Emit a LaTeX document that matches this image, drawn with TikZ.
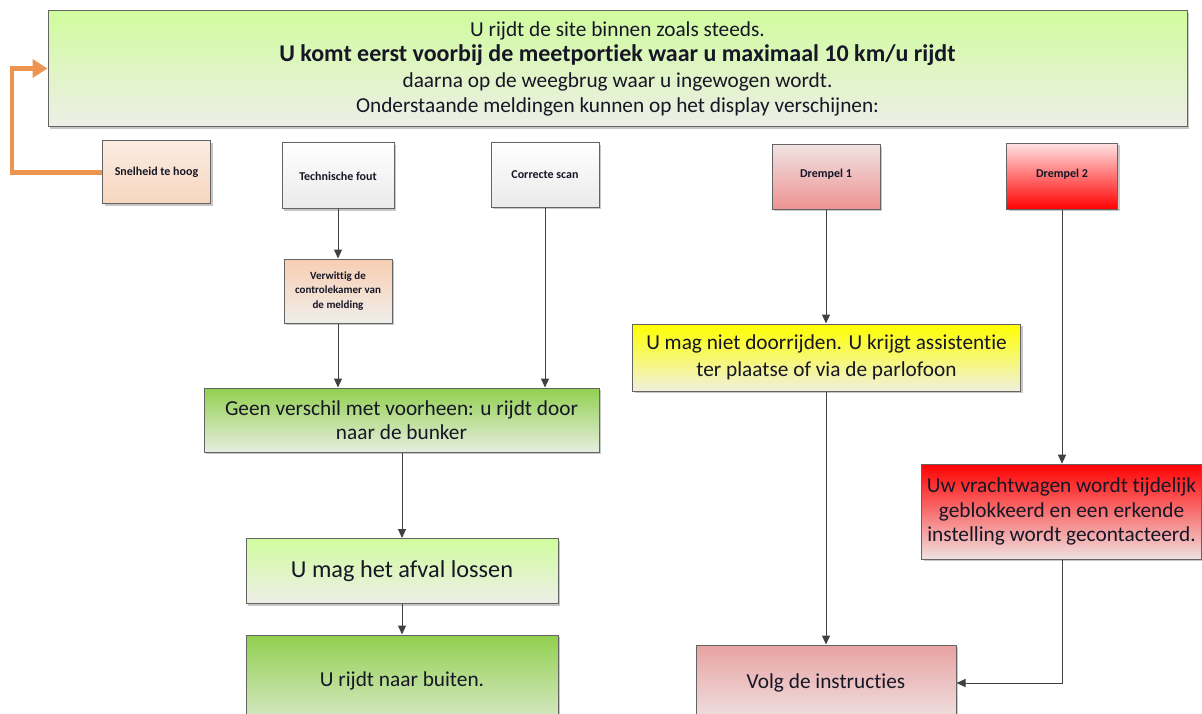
\documentclass[tikz,border=0pt]{standalone}
\usepackage{fontspec}
\setmainfont{Carlito}[Ligatures={NoCommon}]
\usetikzlibrary{arrows.meta,shadows}
\definecolor{lgA}{RGB}{208,252,158}
\definecolor{lgB}{RGB}{238,238,232}
\definecolor{dgA}{RGB}{146,208,80}
\definecolor{dgB}{RGB}{230,238,223}
\definecolor{pcA}{RGB}{251,236,226}
\definecolor{pcB}{RGB}{247,214,190}
\definecolor{vwA}{RGB}{248,206,178}
\definecolor{vwB}{RGB}{240,238,234}
\definecolor{gyB}{RGB}{234,234,234}
\definecolor{d1A}{RGB}{240,226,226}
\definecolor{d1B}{RGB}{238,146,146}
\definecolor{d2A}{RGB}{255,226,226}
\definecolor{d2B}{RGB}{255,0,0}
\definecolor{yeA}{RGB}{255,255,0}
\definecolor{yeB}{RGB}{240,240,222}
\definecolor{rdA}{RGB}{255,0,0}
\definecolor{rdB}{RGB}{240,226,226}
\definecolor{voA}{RGB}{232,162,162}
\definecolor{voB}{RGB}{240,226,226}
\definecolor{edge}{RGB}{100,100,100}
\definecolor{conn}{RGB}{64,64,64}
\definecolor{orng}{RGB}{237,148,80}
\definecolor{txt}{RGB}{22,22,38}
\tikzset{
  x=1pt, y=-1pt,
  box/.style={draw=edge, line width=1pt, inner sep=0pt, align=center, text=txt,
    drop shadow={shadow xshift=2pt, shadow yshift=-2pt, opacity=0.22, fill=black}},
  smalltxt/.style={font=\fontsize{12}{14.5}\selectfont\bfseries},
  bigtxt/.style={font=\fontsize{21.3}{25.5}\selectfont},
  conn/.style={draw=conn, line width=1pt, -{Triangle[length=9pt,width=8pt]}},
  back/.style={draw=orng, line width=4.5pt, -{Triangle[length=15pt,width=18pt]}}
}
\begin{document}
\begin{tikzpicture}
\useasboundingbox (0,0) rectangle (1202,714);
% top box
\node[box, top color=lgA, bottom color=lgB, minimum width=1139pt, minimum height=116pt, font=\fontsize{21.3}{25.5}\selectfont] (top) at (617.5,69)
  {U rijdt de site binnen zoals steeds.\\
   {\fontsize{24}{25.5}\selectfont\bfseries U komt eerst voorbij de meetportiek waar u maximaal 10 km/u rijdt}\\
   daarna op de weegbrug waar u ingewogen wordt.\\
   Onderstaande meldingen kunnen op het display verschijnen:};
% small boxes
\node[box, smalltxt, top color=pcA, bottom color=pcB, minimum width=108pt, minimum height=63pt] (snel) at (156.5,172.5) {Snelheid te hoog};
\node[box, smalltxt, top color=white, bottom color=gyB, minimum width=112pt, minimum height=66pt] (tech) at (338,176) {Technische fout};
\node[box, smalltxt, top color=white, bottom color=gyB, minimum width=108pt, minimum height=64.5pt] (corr) at (545,175) {Correcte scan};
\node[box, smalltxt, top color=d1A, bottom color=d1B, minimum width=108pt, minimum height=64.5pt] (d1) at (826,177) {\raisebox{7pt}{Drempel 1}};
\node[box, smalltxt, top color=d2A, bottom color=d2B, minimum width=111pt, minimum height=66pt] (d2) at (1062,176.3) {\raisebox{7pt}{Drempel 2}};
\node[box, font=\fontsize{11}{14.5}\selectfont\bfseries, top color=vwA, bottom color=vwB, minimum width=108pt, minimum height=64pt] (verw) at (338,291)
  {Verwittig de\\ controlekamer van\\ de melding};
% big boxes
\node[box, font=\fontsize{21.3}{24.5}\selectfont, top color=dgA, bottom color=dgB, minimum width=395pt, minimum height=64pt] (geen) at (401.5,420)
  {Geen verschil met voorheen: u rijdt door\\ naar de bunker};
\node[box, font=\fontsize{24.3}{28}\selectfont, top color=lgA, bottom color=lgB, minimum width=312pt, minimum height=65pt] (afval) at (402,571)
  {U mag het afval lossen};
\node[box, font=\fontsize{21.3}{25}\selectfont, top color=dgA, bottom color=dgB, minimum width=312pt, minimum height=105pt] (buiten) at (402,687.5)
  {\raisebox{16pt}{U rijdt naar buiten.}};
\node[box, font=\fontsize{21.3}{26.5}\selectfont, top color=yeA, bottom color=yeB, minimum width=388pt, minimum height=67pt] (geel) at (826.5,357.5)
  {U mag niet doorrijden. U krijgt assistentie\\ ter plaatse of via de parlofoon};
\node[box, font=\fontsize{21.3}{24.5}\selectfont, top color=rdA, bottom color=rdB, minimum width=280pt, minimum height=95pt] (rood) at (1061.5,511.7)
  {Uw vrachtwagen wordt tijdelijk\\ geblokkeerd en een erkende\\ instelling wordt gecontacteerd.};
\node[box, font=\fontsize{21.3}{25}\selectfont, top color=voA, bottom color=voB, minimum width=260pt, minimum height=76pt] (volg) at (826,683)
  {Volg de instructies};
% connectors
\draw[conn] (tech.south) -- (verw.north);
\draw[conn] (verw.south) -- (geen.north -| verw.south);
\draw[conn] (corr.south) -- (geen.north -| corr.south);
\draw[conn] (geen.south -| afval.north) -- (afval.north);
\draw[conn] (afval.south) -- (buiten.north);
\draw[conn] (d1.south) -- (geel.north -| d1.south);
\draw[conn] (geel.south -| d1.south) -- (volg.north -| d1.south);
\draw[conn] (d2.south) -- (rood.north -| d2.south);
\draw[conn] (rood.south -| d2.south) |- (volg.east);
\coordinate (bend) at (12,68.5);
\draw[back, line join=miter] (snel.west) -- (bend |- snel.west) -- (bend) -- (top.west |- bend);
\end{tikzpicture}
\end{document}
